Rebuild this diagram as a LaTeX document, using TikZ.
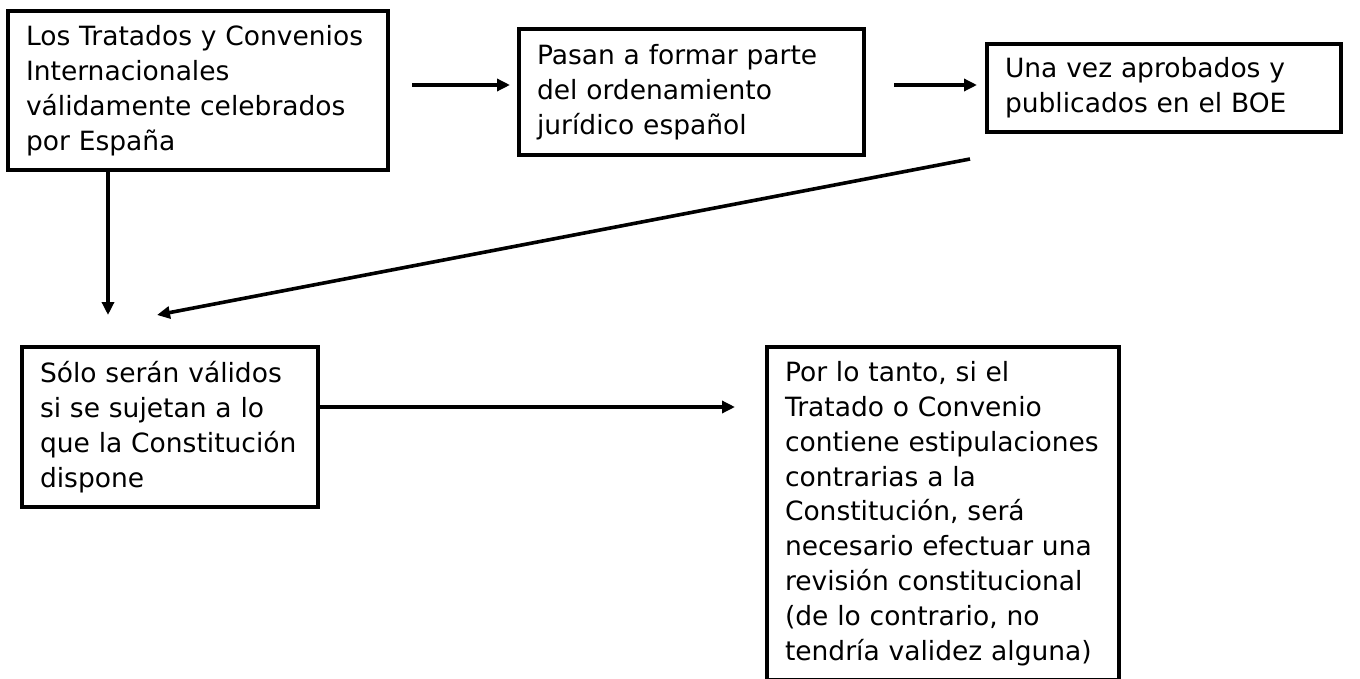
\documentclass[tikz,border=0pt]{standalone}
\usepackage{fontspec}
\setmainfont{DejaVu Sans}
\usetikzlibrary{arrows.meta}
\tikzset{
  box/.style={draw=black, line width=4pt, anchor=north west, align=left,
    inner xsep=18pt, inner ysep=0pt, fill=white,
    font=\fontsize{26.5}{34.8}\selectfont},
  arr/.style={draw=black, line width=3.6pt, -{Triangle[length=13pt,width=12pt]}}
}
\begin{document}
\begin{tikzpicture}[x=1pt,y=-1pt]
\useasboundingbox (0,0) rectangle (1360,679);
\node[box, text width=344pt, minimum height=159pt] (b1) at (6,9)
  {Los Tratados y Convenios\\Internacionales\\válidamente celebrados\\por España};
\node[box, text width=309pt, minimum height=126pt] (b2) at (517,27)
  {Pasan a formar parte\\del ordenamiento\\jurídico español};
\node[box, text width=318pt, minimum height=88pt] (b3) at (985,42)
  {Una vez aprobados y\\publicados en el BOE};
\node[box, text width=260pt, minimum height=160pt] (b4) at (20,345)
  {Sólo serán válidos\\si se sujetan a lo\\que la Constitución\\dispone};
\node[box, text width=316pt, minimum height=333pt] (b5) at (765,345)
  {Por lo tanto, si el\\Tratado o Convenio\\contiene estipulaciones\\contrarias a la\\Constitución, será\\necesario efectuar una\\revisión constitucional\\(de lo contrario, no\\tendría validez alguna)};
% arrows
\draw[arr] ([xshift=22pt,yshift=5.5pt]b1.east) -- ([xshift=-7pt,yshift=5.5pt]b1.east -| b2.west);
\draw[arr] ([xshift=28pt,yshift=7pt]b2.east) -- ([xshift=-8pt,yshift=7pt]b2.east -| b3.west);
\draw[arr] ([xshift=-15pt,yshift=-25pt]b3.south west) -- ([xshift=-13pt,yshift=30pt]b4.north);
\draw[arr] ([xshift=102pt]b1.south west) -- ([xshift=88pt,yshift=30pt]b4.north west);
\draw[arr] ([yshift=20pt]b4.east) -- ([xshift=-30pt,yshift=20pt]b4.east -| b5.west);
\end{tikzpicture}
\end{document}
